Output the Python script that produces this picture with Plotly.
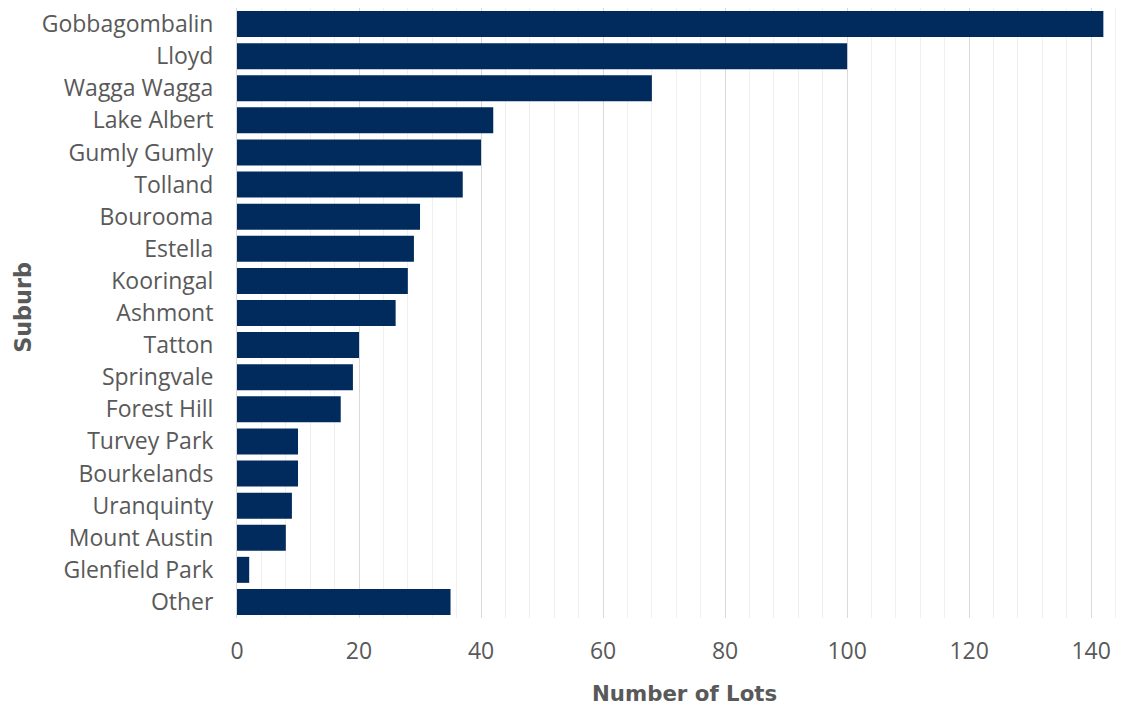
import plotly.graph_objects as go

suburbs = ["Gobbagombalin", "Lloyd", "Wagga Wagga", "Lake Albert", "Gumly Gumly",
           "Tolland", "Bourooma", "Estella", "Kooringal", "Ashmont", "Tatton",
           "Springvale", "Forest Hill", "Turvey Park", "Bourkelands", "Uranquinty",
           "Mount Austin", "Glenfield Park", "Other"]
lots = [142, 100, 68, 42, 40, 37, 30, 29, 28, 26, 20, 19, 17, 10, 10, 9, 8, 2, 35]

x_title = "Number of Lots"
y_title = "Suburb"

fig = go.Figure(go.Bar(
    x=lots, y=suburbs, orientation="h",
    marker=dict(color="#002B5C", line=dict(width=0)),
))

label_font = dict(family="Open Sans", size=23, color="#595959")
title_color = "#595959"

fig.update_layout(
    width=1136, height=705,
    margin=dict(l=237, r=18, t=8, b=87),
    plot_bgcolor="white", paper_bgcolor="white",
    bargap=0.19,
    showlegend=False,
    font=label_font,
)
fig.update_xaxes(
    range=[0, 144.4],
    dtick=20, tick0=0,
    showgrid=True, gridcolor="#d9d9d9", gridwidth=1,
    minor=dict(dtick=4, showgrid=True, gridcolor="#efefef", gridwidth=1),
    zeroline=False, showline=False,
    ticks="", ticklabelstandoff=17,
    tickfont=label_font,
    automargin=False,
)
fig.update_yaxes(
    autorange="reversed",
    showgrid=False, zeroline=False,
    showline=True, linecolor="#d9d9d9", linewidth=1,
    ticks="", ticklabelstandoff=18,
    tickfont=label_font,
    automargin=False,
)

# axis titles placed as annotations
fig.add_annotation(
    text=f"<b>{x_title}</b>", xref="paper", yref="paper",
    x=0.5085, y=-0.123, xanchor="center", yanchor="middle", showarrow=False,
    font=dict(family="DejaVu Sans", size=21.3, color=title_color),
)
fig.add_annotation(
    text=f"<b>{y_title}</b>", xref="paper", yref="paper",
    x=-0.243, y=0.51, xanchor="center", yanchor="middle", showarrow=False,
    textangle=-90,
    font=dict(family="DejaVu Sans", size=22.3, color=title_color),
)

fig.write_html("out.html")
